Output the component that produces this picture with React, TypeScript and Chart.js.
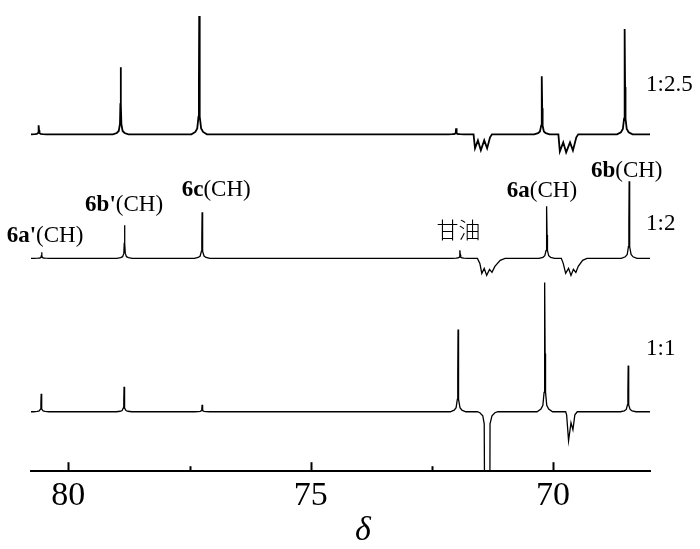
import { useEffect, useRef } from 'react';
import { Chart, registerables } from 'chart.js';

Chart.register(...registerables);

const SERIF = "'Liberation Serif', 'Times New Roman', serif";

// x range (ppm, reversed axis)
const X_MIN = 68.0;
const X_MAX = 80.77;
const majorTicks = [80, 75, 70];
const minorTicks = [77.5, 72.5];

// Trace labels (intensity ratio)
const traceNames = ['1:2.5', '1:2', '1:1'];

// Positive peaks: position (ppm) and height (relative intensity)
const topPeakPpm = [80.61, 78.92, 77.3, 72.0, 70.23, 68.52];
const topPeakHeight = [9, 67, 118, 6, 58, 105];
const midPeakPpm = [80.55, 78.84, 77.24, 71.92, 70.13, 68.43];
const midPeakHeight = [6, 33, 46, 8, 52, 77];
const botPeakPpm = [80.56, 78.85, 77.24, 71.96, 70.17, 68.45];
const botPeakHeight = [18, 25, 7, 82, 129, 46];

// Negative (inverted) multiplets: ppm and intensity
const topNegPpm = [71.64, 71.61, 71.55, 71.49, 71.42, 71.36, 71.3, 71.26, 69.89, 69.86, 69.79, 69.73, 69.65, 69.59, 69.52, 69.48];
const topNegVal = [0, -14, -6, -16, -6, -14, -3, 0, 0, -17, -8, -18, -8, -16, -3, 0];
const midNegPpm = [71.56, 71.51, 71.47, 71.42, 71.37, 71.31, 71.26, 71.2, 71.09, 70.99, 69.83, 69.79, 69.74, 69.68, 69.63, 69.58, 69.53, 69.48, 69.39, 69.3];
const midNegVal = [0, -5, -15, -10, -17, -11, -14, -8, -2, 0, 0, -5, -15, -10, -17, -11, -14, -8, -2, 0];
const botNegPpm = [71.56, 71.51, 71.45, 71.42, 71.4, 71.31, 71.3, 71.26, 71.2, 71.14, 69.74, 69.72, 69.68, 69.63, 69.59, 69.55, 69.5];
const botNegVal = [0, -1, -4, -12, -220, -220, -12, -4, -1, 0, 0, -3, -29, -11, -18, -3, 0];

// Lorentzian-like line shape template (offset in ppm, fraction of height)
const shapeOffset = [-0.16, -0.08, -0.04, -0.015, -0.006, 0, 0.006, 0.015, 0.04, 0.08, 0.16];
const shapeFrac = [0, 0.02, 0.05, 0.15, 0.45, 1, 0.45, 0.15, 0.05, 0.02, 0];

// vertical stacking of the three traces (y-axis units)
const traceOffset = [336, 212.3, 59.3];

// Peak annotations: bold part, normal part, anchor ppm, baseline y (px)
const annBold = ["6a'", "6b'", '6c', '6a', '6b'];
const annNorm = ['(CH)', '(CH)', '(CH)', '(CH)', '(CH)'];
const annPpm = [80.48, 78.85, 76.95, 70.23, 68.48];
const annY = [242, 211, 196, 197, 177];

function buildTrace(pp: number[], ph: number[], np: number[], nv: number[], off: number) {
  const pts: { x: number; y: number }[] = [];
  pts.push({ x: X_MAX, y: 0 });
  pts.push({ x: X_MIN, y: 0 });
  pp.forEach((p, i) => {
    shapeOffset.forEach((o, k) => pts.push({ x: p + o, y: ph[i] * shapeFrac[k] }));
  });
  np.forEach((p, i) => pts.push({ x: p, y: nv[i] }));
  pts.sort((a, b) => b.x - a.x);
  return pts.map((p) => ({ x: p.x, y: p.y + off }));
}

const annotPlugin = {
  id: 'annot',
  afterDraw(chart: any) {
    const { ctx, chartArea } = chart;
    const x = chart.scales.x;
    ctx.save();
    // inward tick marks
    ctx.strokeStyle = '#000';
    ctx.lineWidth = 2;
    majorTicks.forEach((v) => {
      const px = Math.round(x.getPixelForValue(v)) + 0.5;
      ctx.beginPath();
      ctx.moveTo(px, chartArea.bottom);
      ctx.lineTo(px, chartArea.bottom - 9);
      ctx.stroke();
    });
    minorTicks.forEach((v) => {
      const px = Math.round(x.getPixelForValue(v)) + 0.5;
      ctx.beginPath();
      ctx.moveTo(px, chartArea.bottom);
      ctx.lineTo(px, chartArea.bottom - 5);
      ctx.stroke();
    });
    ctx.fillStyle = '#000';
    ctx.textBaseline = 'alphabetic';
    // peak labels
    annBold.forEach((b, i) => {
      ctx.font = `bold 23px ${SERIF}`;
      const wb = ctx.measureText(b).width;
      ctx.font = `23px ${SERIF}`;
      const wn = ctx.measureText(annNorm[i]).width;
      const cx = x.getPixelForValue(annPpm[i]);
      const sx = cx - (wb + wn) / 2;
      ctx.font = `bold 23px ${SERIF}`;
      ctx.fillText(b, sx, annY[i]);
      ctx.font = `23px ${SERIF}`;
      ctx.fillText(annNorm[i], sx + wb, annY[i]);
    });
    // glycerol label
    ctx.font = `300 22px 'Noto Sans CJK SC', ${SERIF}`;
    ctx.textAlign = 'center';
    ctx.fillText('甘油', x.getPixelForValue(71.95), 238);
    // ratio labels
    ctx.textAlign = 'left';
    ctx.font = `23px ${SERIF}`;
    const ry = [91, 230, 355];
    traceNames.forEach((t, i) => ctx.fillText(t, chartArea.right - 4, ry[i]));
    // axis title
    ctx.font = `italic 34px ${SERIF}`;
    ctx.textAlign = 'center';
    ctx.fillText('δ', 363, 540);
    ctx.restore();
  },
};

export default function App() {
  const ref = useRef<HTMLCanvasElement | null>(null);
  useEffect(() => {
    if (!ref.current) return;
    const datasets = [
      { data: buildTrace(topPeakPpm, topPeakHeight, topNegPpm, topNegVal, traceOffset[0]), borderWidth: 1.8 },
      { data: buildTrace(midPeakPpm, midPeakHeight, midNegPpm, midNegVal, traceOffset[1]), borderWidth: 1.3 },
      { data: buildTrace(botPeakPpm, botPeakHeight, botNegPpm, botNegVal, traceOffset[2]), borderWidth: 1.3 },
    ].map((d, i) => ({
      label: traceNames[i],
      data: d.data,
      borderColor: '#000',
      borderWidth: d.borderWidth,
      pointRadius: 0,
      tension: 0,
      fill: false,
    }));
    const chart = new Chart(ref.current, {
      type: 'line',
      data: { datasets },
      options: {
        animation: false,
        responsive: false,
        layout: { padding: { left: 31, right: 50, top: 10, bottom: 29 } },
        plugins: { legend: { display: false }, tooltip: { enabled: false } },
        scales: {
          x: {
            type: 'linear',
            reverse: true,
            min: X_MIN,
            max: X_MAX,
            afterBuildTicks: (axis: any) => {
              axis.ticks = [...majorTicks, ...minorTicks].sort((a, b) => b - a).map((v) => ({ value: v }));
            },
            ticks: {
              autoSkip: false,
              maxRotation: 0,
              padding: 4,
              color: '#000',
              font: { family: SERIF, size: 34 },
              callback: (v: any) => (majorTicks.includes(Number(v)) ? String(v) : ''),
            },
            grid: { display: false, drawTicks: false },
            border: { display: true, color: '#000', width: 2 },
          },
          y: {
            display: false,
            min: 0,
            max: 460,
          },
        },
      },
      plugins: [annotPlugin],
    });
    return () => chart.destroy();
  }, []);
  return (
    <div style={{ position: 'absolute', left: 0, top: 0, width: 700, height: 549, background: '#fff' }}>
      <canvas ref={ref} width={700} height={549} />
    </div>
  );
}
